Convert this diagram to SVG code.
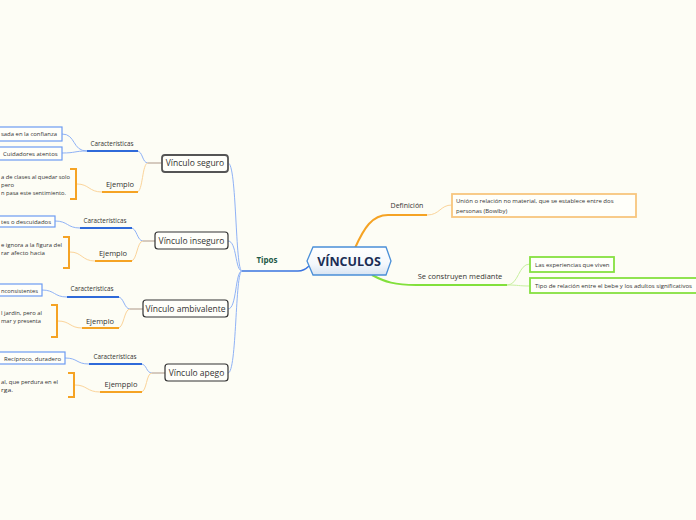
<svg xmlns="http://www.w3.org/2000/svg" width="696" height="520" viewBox="0 0 696 520">
<defs>
<linearGradient id="hg" x1="0" y1="0" x2="0" y2="1"><stop offset="0" stop-color="#ffffff"/><stop offset="0.6" stop-color="#f4f8fc"/><stop offset="1" stop-color="#d8e4f2"/></linearGradient>
<style>
text{font-family:"Open Sans","Noto Sans","DejaVu Sans",sans-serif;fill:#333}
.node rect{fill:#fffffa;stroke:#333;stroke-width:1.2}
.nt{font-size:8.5px;text-anchor:middle}
.lbl{font-size:6.3px;text-anchor:middle}
.ej{font-size:7.5px;text-anchor:middle}
.leaf rect{fill:#fffffa;stroke:#6d9cf2;stroke-width:1.2}
.lt{font-size:6px}
.c{fill:none}
.tb{stroke:#8fb2f5;stroke-width:1}
.mb{stroke:#3a74e0;stroke-width:1.5}
.bb{stroke:#2f6ad9;stroke-width:2}
.to{stroke:#fbd49a;stroke-width:1}
.bo{stroke:#f5a324;stroke-width:2}
.br{stroke:#bba99a;stroke-width:1.2}
.bk{fill:none;stroke:#f5a324;stroke-width:2}
.tg{stroke:#c8f0a0;stroke-width:1}
.bg{stroke:#82e03c;stroke-width:2}
</style>
</defs>
<rect width="696" height="520" fill="#fdfdf5"/>
<g id="connectors" class="c">
<path class="mb" d="M242,271 L298,271 C303,271 306,269 309,266"/>
<path class="tb" d="M228,163 C237,163 235,271 242,271"/>
<path class="tb" d="M228,241 C237,241 235,271 242,271"/>
<path class="tb" d="M228,309 C237,309 235,271 242,271"/>
<path class="tb" d="M228,373 C237,373 235,271 242,271"/>
<path class="br" d="M162,163 H148"/>
<path class="tb" d="M148,163 C142,163 143,151 137,151"/>
<path class="bb" d="M87,151 H138"/>
<path class="tb" d="M87,151 C72,151 76,134 62,134"/>
<path class="tb" d="M87,151 C74,151 76,153 62,153"/>
<path class="to" d="M148,163 C142,163 143,192 137,192"/>
<path class="bo" d="M102,192 H138"/>
<path class="to" d="M102,192 C89,192 89,184 77,184"/>
<path class="bk" d="M70,169 H76 V199 H70"/>
<path class="br" d="M155,241 H143"/>
<path class="tb" d="M143,241 C137,241 137,228 131,228"/>
<path class="bb" d="M80,228 H132"/>
<path class="tb" d="M80,228 C67,228 68,221 55,221"/>
<path class="to" d="M143,241 C137,241 137,261 131,261"/>
<path class="bo" d="M95,261 H132"/>
<path class="to" d="M95,261 C82,261 82,252 70,252"/>
<path class="bk" d="M63,237 H69 V268 H63"/>
<path class="br" d="M143,309 H130"/>
<path class="tb" d="M130,309 C124,309 124,297 118,297"/>
<path class="bb" d="M67,297 H119"/>
<path class="tb" d="M67,297 C54,297 55,290 42,290"/>
<path class="to" d="M130,309 C124,309 124,328 118,328"/>
<path class="bo" d="M82,328 H119"/>
<path class="to" d="M82,328 C70,328 70,321 58,321"/>
<path class="bk" d="M51,305 H57 V337 H51"/>
<path class="br" d="M165,373 H152"/>
<path class="tb" d="M152,373 C146,373 147,364 141,364"/>
<path class="bb" d="M89,364 H142"/>
<path class="tb" d="M89,364 C76,364 78,358 65,358"/>
<path class="to" d="M152,373 C146,373 147,392 141,392"/>
<path class="bo" d="M100,392 H142"/>
<path class="to" d="M100,392 C87,392 87,385 75,385"/>
<path class="bk" d="M68,373 H74 V397 H68"/>
<path class="bo" d="M355,248 C364,228 372,215 388,215 H427"/>
<path class="to" d="M427,215 C440,215 440,205 452,205"/>
<path class="bg" d="M372,275 C385,282 395,285 416,285 H507"/>
<path class="tg" d="M507,285 C519,285 518,264 530,264"/>
<path class="tg" d="M507,285 C519,285 518,286 530,286"/>
</g>
<g id="root">
<polygon points="307,261 313,247 386,247 391,261 386,275 313,275" fill="url(#hg)" stroke="#4a8fd8" stroke-width="1.3"/>
<text x="349" y="266" text-anchor="middle" style="font-size:12.5px;font-weight:bold;fill:#1b2d55">VÍNCULOS</text>
</g>
<g id="tipos"><text x="267" y="263" text-anchor="middle" style="font-size:8px;font-weight:bold;fill:#1f5a48">Tipos</text></g>
<g id="n-seguro" class="node"><rect x="162" y="155" width="66" height="17" rx="3" style="stroke:#555;stroke-width:1.8"/><text class="nt" x="195" y="166">Vínculo seguro</text></g>
<g id="n-inseguro" class="node"><rect x="155" y="232" width="73" height="17" rx="3"/><text class="nt" x="191.5" y="243.5">Vínculo inseguro</text></g>
<g id="n-ambivalente" class="node"><rect x="143" y="300" width="85" height="17" rx="3"/><text class="nt" x="185.5" y="311.5">Vínculo ambivalente</text></g>
<g id="n-apego" class="node"><rect x="165" y="364" width="63" height="17" rx="3"/><text class="nt" x="196.5" y="375.5">Vínculo apego</text></g>
<g id="l-car1"><text class="lbl" x="112" y="145.5">Características</text></g>
<g id="l-ej1"><text class="ej" x="120" y="187">Ejemplo</text></g>
<g id="l-car2"><text class="lbl" x="105" y="223">Características</text></g>
<g id="l-ej2"><text class="ej" x="113" y="256">Ejemplo</text></g>
<g id="l-car3"><text class="lbl" x="92" y="291">Características</text></g>
<g id="l-ej3"><text class="ej" x="100" y="323.5">Ejemplo</text></g>
<g id="l-car4"><text class="lbl" x="115" y="358.5">Características</text></g>
<g id="l-ej4"><text class="ej" x="121" y="387">Ejempplo</text></g>
<g id="leaf1" class="leaf"><rect x="-5" y="127" width="67" height="14"/><text class="lt" x="1" y="136" textLength="56" lengthAdjust="spacingAndGlyphs">sada en la confianza</text></g>
<g id="leaf2" class="leaf"><rect x="-5" y="147" width="67" height="13"/><text class="lt" x="3" y="156">Cuidadores atentos</text></g>
<g id="ej1"><text class="lt" x="1" y="179" textLength="69" lengthAdjust="spacingAndGlyphs">a de clases al quedar solo</text><text class="lt" x="1" y="187" textLength="13" lengthAdjust="spacingAndGlyphs">pero</text><text class="lt" x="1" y="195" textLength="65" lengthAdjust="spacingAndGlyphs">n pasa este sentimiento.</text></g>
<g id="leaf3" class="leaf"><rect x="-5" y="216" width="60" height="11"/><text class="lt" x="1" y="224" textLength="50" lengthAdjust="spacingAndGlyphs">tes o descuidados</text></g>
<g id="ej2"><text class="lt" x="1" y="246.5" textLength="61" lengthAdjust="spacingAndGlyphs">e ignora a la figura del</text><text class="lt" x="1" y="255" textLength="44" lengthAdjust="spacingAndGlyphs">rar afecto hacia</text></g>
<g id="leaf4" class="leaf"><rect x="-5" y="284" width="47" height="12"/><text class="lt" x="1" y="292.5" textLength="37" lengthAdjust="spacingAndGlyphs">nconsistentes</text></g>
<g id="ej3"><text class="lt" x="1" y="314.5" textLength="41" lengthAdjust="spacingAndGlyphs">l jardín, pero al</text><text class="lt" x="1" y="323" textLength="40" lengthAdjust="spacingAndGlyphs">mar y presenta</text></g>
<g id="leaf5" class="leaf"><rect x="-5" y="352" width="70" height="12"/><text class="lt" x="4" y="360.5">Recíproco, duradero</text></g>
<g id="ej4"><text class="lt" x="1" y="383.5" textLength="57" lengthAdjust="spacingAndGlyphs">al, que perdura en el</text><text class="lt" x="1" y="391.5" textLength="12" lengthAdjust="spacingAndGlyphs">rga.</text></g>
<g id="l-def"><text x="407" y="207.5" text-anchor="middle" style="font-size:7px">Definición</text></g>
<g id="def"><rect x="452" y="194" width="184" height="23" fill="#fffffa" stroke="#f8c67e" stroke-width="1.8"/><text class="lt" x="456" y="203">Unión o relación no material, que se establece entre dos</text><text class="lt" x="456" y="212.5">personas (Bowlby)</text></g>
<g id="l-se"><text x="460" y="278.5" text-anchor="middle" style="font-size:7.5px">Se construyen mediante</text></g>
<g id="se1"><rect x="530" y="257" width="84" height="15" fill="#fffffa" stroke="#86e040" stroke-width="1.8"/><text class="lt" x="535" y="267">Las experiencias que viven</text></g>
<g id="se2"><rect x="530" y="278" width="172" height="15" fill="#fffffa" stroke="#86e040" stroke-width="1.8"/><text class="lt" x="535" y="288">Tipo de relación entre el bebe y los adultos significativos</text></g>
</svg>
